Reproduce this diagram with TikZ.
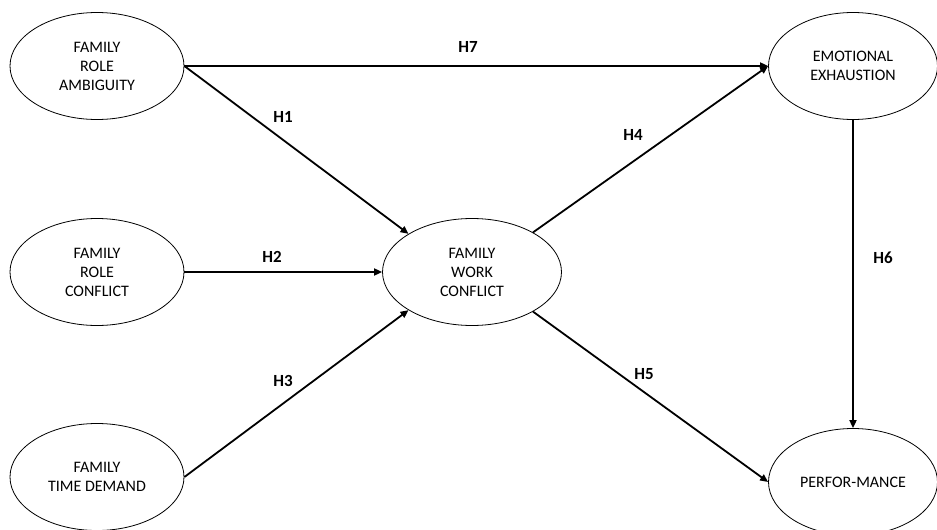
\documentclass[tikz,border=0pt]{standalone}
\usepackage{fontspec}
\setmainfont{Carlito}
\usetikzlibrary{arrows.meta,positioning,shapes.geometric}
\tikzset{
  construct/.style={ellipse, draw=black, line width=0.8pt, fill=white,
              align=center, minimum width=174pt, minimum height=107pt,
              inner sep=0pt, font=\fontsize{16}{19}\selectfont},
  wide/.style={construct, minimum width=179pt},
  arrow/.style={-{Triangle[length=8pt,width=7pt]}, line width=1.8pt, draw=black},
  hlab/.style={font=\fontsize{17}{20}\selectfont\bfseries, inner sep=1pt},
}
\begin{document}
\begin{tikzpicture}[x=1pt, y=-1pt]
  \useasboundingbox (0,0) rectangle (937,530);
  % constructs
  \node[construct] (ambig) at (97,66) {FAMILY\\ROLE\\AMBIGUITY};
  \node[construct] (rolec) at (97,272) {FAMILY\\ROLE\\CONFLICT};
  \node[construct] (timed) at (97,477) {FAMILY\\TIME DEMAND};
  \node[wide] (fwc) at (472,272) {FAMILY\\WORK\\CONFLICT};
  \node[construct, minimum width=169pt] (exh) at (853,66) {EMOTIONAL\\EXHAUSTION};
  \node[construct, minimum width=169pt] (perf) at (853,482) {PERFOR-MANCE};
  % paths
  \draw[arrow] (ambig.east) -- (exh.west);
  \draw[arrow] (ambig.east) -- (fwc.149);
  \draw[arrow] (rolec.east) -- (fwc.west);
  \draw[arrow] (timed.east) -- (fwc.211);
  \draw[arrow] (fwc.33) -- (exh.west);
  \draw[arrow] (fwc.-33) -- (perf.west);
  \draw[arrow] (exh.south) -- (perf.north);
  % hypotheses
  \node[hlab] (h1) at (283,117) {H1};
  \node[hlab] (h2) at (272,257) {H2};
  \node[hlab] (h3) at (283,381) {H3};
  \node[hlab] (h4) at (633,135) {H4};
  \node[hlab] (h5) at (644,374) {H5};
  \node[hlab] (h6) at (883,258) {H6};
  \node[hlab] (h7) at (468,47) {H7};
\end{tikzpicture}
\end{document}
